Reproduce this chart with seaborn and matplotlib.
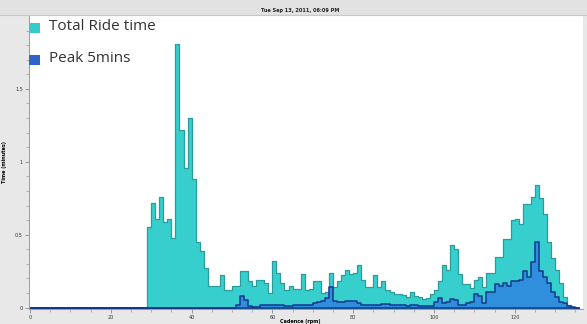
import numpy as np
import pandas as pd
import matplotlib
matplotlib.use("Agg")
import matplotlib.pyplot as plt
from matplotlib.patches import Rectangle
from matplotlib.lines import Line2D
import seaborn as sns

# Time spent at each cadence (minutes), one value per 1-rpm bin
total_start = 29
total_minutes = [
    0.55, 0.72, 0.61, 0.76, 0.59, 0.61, 0.48, 1.81, 1.22, 0.96,   # 29-38
    1.30, 0.88, 0.45, 0.39, 0.27, 0.15, 0.15, 0.15, 0.22, 0.12,   # 39-48
    0.12, 0.146, 0.15, 0.25, 0.25, 0.18, 0.146, 0.19, 0.19, 0.17, # 49-58
    0.10, 0.32, 0.24, 0.17, 0.12, 0.146, 0.13, 0.13, 0.23, 0.12,  # 59-68
    0.13, 0.18, 0.18, 0.10, 0.11, 0.24, 0.14, 0.18, 0.22, 0.26,   # 69-78
    0.23, 0.24, 0.29, 0.19, 0.14, 0.14, 0.22, 0.14, 0.18, 0.12,   # 79-88
    0.11, 0.096, 0.09, 0.085, 0.07, 0.11, 0.078, 0.07, 0.056, 0.065,  # 89-98
    0.09, 0.12, 0.18, 0.29, 0.26, 0.43, 0.40, 0.23, 0.16, 0.16,   # 99-108
    0.135, 0.19, 0.21, 0.14, 0.24, 0.24, 0.35, 0.35, 0.47, 0.47,  # 109-118
    0.60, 0.61, 0.57, 0.71, 0.71, 0.76, 0.84, 0.75, 0.64, 0.45,   # 119-128
    0.34, 0.26, 0.17, 0.07, 0.02,                                  # 129-133
]

peak_start = 50
peak_minutes = [
    0.0, 0.02, 0.08, 0.055, 0.01, 0.005, 0.005, 0.02, 0.02, 0.02, # 50-59
    0.02, 0.02, 0.02, 0.01, 0.01, 0.015, 0.015, 0.015, 0.015, 0.015,  # 60-69
    0.03, 0.04, 0.045, 0.065, 0.14, 0.045, 0.04, 0.04, 0.045, 0.045,  # 70-79
    0.045, 0.03, 0.015, 0.015, 0.015, 0.02, 0.02, 0.025, 0.025, 0.015,  # 80-89
    0.015, 0.015, 0.015, 0.01, 0.02, 0.02, 0.01, 0.01, 0.01, 0.01,  # 90-99
    0.035, 0.065, 0.03, 0.04, 0.06, 0.05, 0.02, 0.02, 0.03, 0.04, # 100-109
    0.09, 0.08, 0.03, 0.11, 0.11, 0.16, 0.15, 0.17, 0.15, 0.18,   # 110-119
    0.18, 0.19, 0.25, 0.21, 0.31, 0.45, 0.25, 0.21, 0.17, 0.11,   # 120-129
    0.07, 0.04, 0.03, 0.01, 0.005,                                 # 130-134
]

title = "Tue Sep 13, 2011, 06:09 PM"
legend_labels = ["Total Ride time", "Peak 5mins"]
x_ticks = [0, 20, 40, 60, 80, 100, 120]
y_ticks = [0, 0.5, 1, 1.5]
y_tick_labels = ["0", "0.5", "1", "1.5"]

max_rpm = 136


def full_series(start, values):
    cadence = np.arange(0, max_rpm)
    minutes = np.zeros(max_rpm)
    minutes[start:start + len(values)] = values
    return pd.DataFrame({"cadence": cadence + 0.5, "minutes": minutes})


total_df = full_series(total_start, total_minutes)
peak_df = full_series(peak_start, peak_minutes)

W, H = 587, 324
fig = plt.figure(figsize=(W / 100, H / 100), dpi=100, facecolor="#e8e8e8")

# window title strip
fig.patches.append(Rectangle((0, 1 - 15 / H), 1, 15 / H, transform=fig.transFigure,
                             facecolor="#e2e2e2", edgecolor="none", zorder=0))
fig.add_artist(Line2D([0, 1], [1 - 15 / H, 1 - 15 / H], transform=fig.transFigure,
                      color="#c8c8c8", lw=0.8))
fig.text(0.511, 1 - 10.5 / H, title, ha="center", va="center", fontsize=3.6,
         fontweight="bold", color="#222222")

ax = fig.add_axes([29 / W, (H - 309) / H, (583 - 29) / W, (309 - 16) / H])
ax.set_facecolor("white")

teal_fill, teal_edge = "#36cfcd", "#2b9c9c"
blue_fill, blue_edge = "#2f8fdc", "#15378f"

sns.histplot(data=total_df, x="cadence", weights="minutes", binwidth=1,
             binrange=(0, max_rpm), element="step", fill=True, color=teal_fill,
             alpha=1, edgecolor=teal_edge, linewidth=0.9, ax=ax)
sns.histplot(data=peak_df, x="cadence", weights="minutes", binwidth=1,
             binrange=(0, max_rpm), element="step", fill=True, color=blue_fill,
             alpha=1, edgecolor=blue_edge, linewidth=1.1, ax=ax)

ax.set_xlim(-0.25, 136.9)
ax.set_ylim(-0.01, 2.0)

for side in ["top", "right"]:
    ax.spines[side].set_visible(False)
for side in ["left", "bottom"]:
    ax.spines[side].set_color("#9a9a9a")
    ax.spines[side].set_linewidth(0.7)

ax.set_xticks(x_ticks)
ax.set_xticks(np.arange(0, 136, 5), minor=True)
ax.set_yticks(y_ticks)
ax.set_yticklabels(y_tick_labels)
ax.set_yticks(np.arange(0, 2.0, 0.1), minor=True)
ax.tick_params(axis="both", which="major", labelsize=3.5, length=3, width=0.6,
               color="#888888", labelcolor="#333333", pad=1.5)
ax.tick_params(axis="both", which="minor", length=2, width=0.5, color="#999999")

ax.set_xlabel("Cadence (rpm)", fontsize=3.5, fontweight="bold", labelpad=0.5)
ax.xaxis.set_label_coords(0.49, -0.035)
ax.set_ylabel("Time (minutes)", fontsize=3.5, fontweight="bold", labelpad=6)

# legend swatches and labels
legend_colors = ["#33cccc", "#2e64c8"]
legend_y = [28, 60]
for color, y, label in zip(legend_colors, legend_y, legend_labels):
    fig.patches.append(Rectangle((29 / W, 1 - (y + 5) / H), 11 / W, 10 / H,
                                 transform=fig.transFigure, facecolor=color,
                                 edgecolor="none", zorder=5))
    fig.text(49 / W, 1 - (y - 2) / H, label, ha="left", va="center",
             fontsize=11, family="Open Sans", color="#333333")

fig.savefig("out.png", dpi=100, facecolor=fig.get_facecolor())
